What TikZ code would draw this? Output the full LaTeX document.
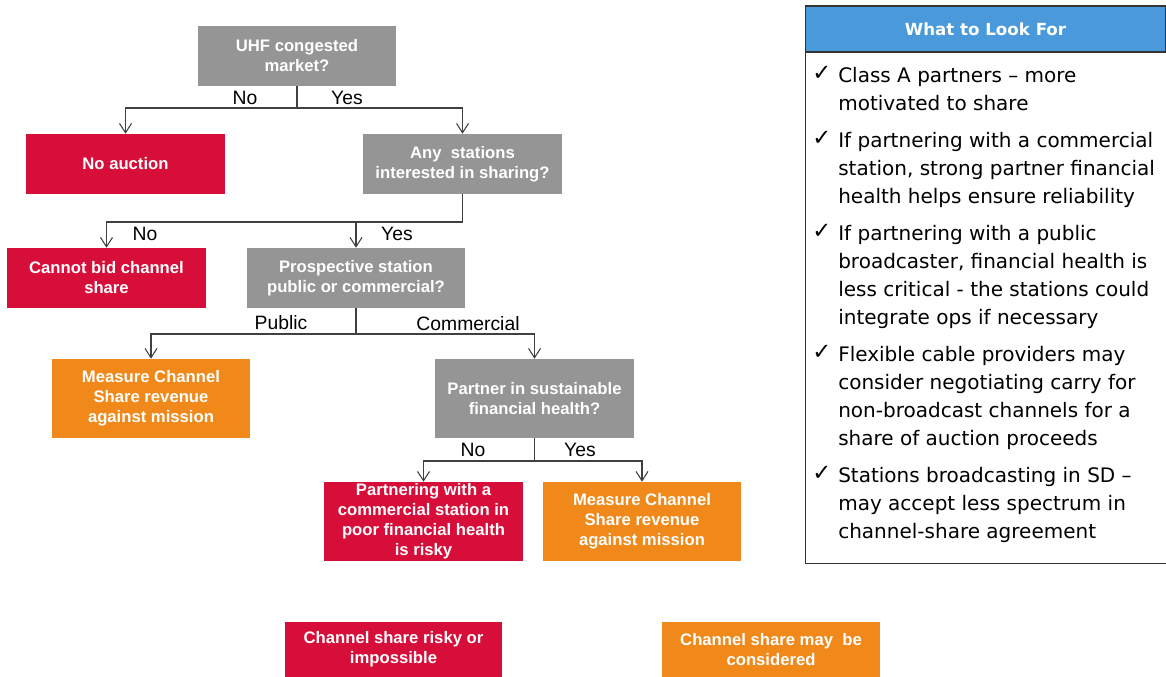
\documentclass[tikz,border=0pt]{standalone}
\usepackage{fontspec}
\setmainfont{Liberation Sans}
\newfontfamily\panelfont{DejaVu Sans}
\usetikzlibrary{arrows.meta}
\definecolor{askgray}{RGB}{149,149,149}
\definecolor{stopred}{RGB}{216,14,58}
\definecolor{goorange}{RGB}{240,137,26}
\definecolor{headblue}{RGB}{74,154,219}

\begin{document}
\begin{tikzpicture}[x=0.75pt,y=-0.75pt,
    box/.style={align=center,text=white,inner sep=0pt,font=\bfseries\fontsize{12.5}{15}\selectfont,minimum width=149pt,minimum height=45pt},
    ask/.style={box,fill=askgray},
    stop/.style={box,fill=stopred},
    goon/.style={box,fill=goorange},
    tall/.style={minimum height=59.25pt},
    link/.style={draw=black!75,line width=0.8pt},
    arr/.style={link,-{Straight Barb[length=7pt,width=9pt]}},
    answer/.style={font=\fontsize{14.5}{16}\selectfont,inner sep=0pt},
    tick/.style={font=\panelfont\fontsize{15}{21}\selectfont,inner sep=0pt,anchor=north west,align=left}]
  \useasboundingbox (0,0) rectangle (1166,677);

  % decision tree
  \node[ask] (uhf) at (297,56) {UHF congested\\market?};
  \node[stop] (noauc) at (125.5,164) {No auction};
  \node[ask] (anyst) at (462.5,164) {Any~ stations\\interested in sharing?};
  \node[stop] (nobid) at (106.5,278) {Cannot bid channel\\share};
  \node[ask,minimum width=163.5pt] (prosp) at (356,278) {Prospective station\\public or commercial?};
  \node[goon,tall] (meas1) at (151,398.5) {Measure Channel\\Share revenue\\against mission};
  \node[ask,tall] (sust) at (534.5,398.5) {Partner in sustainable\\financial health?};
  \node[stop,tall] (risky) at (423.5,521.5) {Partnering with a\\commercial station in\\poor financial health\\is risky};
  \node[goon,tall] (meas2) at (642,521.5) {Measure Channel\\Share revenue\\against mission};

  \coordinate (j1) at (297,108);
  \coordinate (j2) at (462.5,222);
  \coordinate (j3) at (356,334);
  \coordinate (j4) at (534.5,461);

  \draw[link] (uhf.south) -- (j1);
  \draw[arr] (j1) -| (noauc);
  \draw[arr] (j1) -| (anyst);
  \draw[link] (anyst.south) -- (j2);
  \draw[arr] (j2) -| (nobid);
  \draw[arr] (j2 -| prosp) -- (prosp);
  \draw[link] (prosp.south) -- (j3);
  \draw[arr] (j3) -| (meas1);
  \draw[arr] (j3) -| (sust);
  \draw[link] (sust.south) -- (j4);
  \draw[arr] (j4) -| (risky);
  \draw[arr] (j4) -| (meas2);

  \node[answer] (no1) at (245,98) {No};
  \node[answer] (yes1) at (347,98) {Yes};
  \node[answer] (no2) at (145,234) {No};
  \node[answer] (yes2) at (397,234) {Yes};
  \node[answer] (pub) at (281,323) {Public};
  \node[answer] (comm) at (468,324) {Commercial};
  \node[answer] (no3) at (473,450) {No};
  \node[answer] (yes3) at (580,450) {Yes};

  % legend
  \node[stop,minimum width=162.75pt,minimum height=41.25pt] (keyred) at (393.5,649.5) {Channel share risky or\\impossible};
  \node[goon,minimum width=163.5pt,minimum height=41.25pt] (keyorange) at (771,649.5) {Channel share may~ be\\considered};

  % what to look for
  \node[draw=black!80,line width=0.8pt,minimum width=270.5pt,minimum height=383pt,anchor=north west,inner sep=0pt] (panel) at (805,52) {};
  \node[draw=black!80,line width=0.8pt,fill=headblue,text=white,font=\panelfont\bfseries\fontsize{12.5}{14}\selectfont,minimum width=270.5pt,minimum height=34.5pt,inner sep=0pt] (head) at (985.5,29) {What to Look For};
  \foreach \y/\txt in {67/{Class A partners – more\\motivated to share},
                       132/{If partnering with a commercial\\station, strong partner financial\\health helps ensure reliability},
                       225/{If partnering with a public\\broadcaster, financial health is\\less critical - the stations could\\integrate ops if necessary},
                       346/{Flexible cable providers may\\consider negotiating carry for\\non-broadcast channels for a\\share of auction proceeds},
                       467/{Stations broadcasting in SD –\\may accept less spectrum in\\channel-share agreement}} {
    \node[tick,font=\panelfont\bfseries\fontsize{17}{21}\selectfont] at (812,\y-1) {✓};
    \node[tick] at (838,\y) {\txt};
  }
\end{tikzpicture}
\end{document}
